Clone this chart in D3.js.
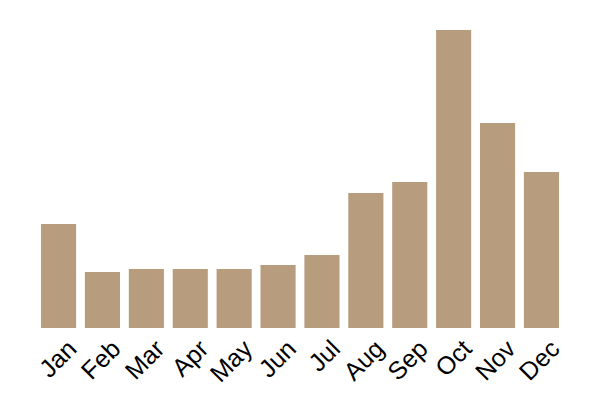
<!DOCTYPE html>
<html>
<head>
<meta charset="utf-8">
<script src="https://cdn.jsdelivr.net/npm/d3@7"></script>
<style>
  body { margin: 0; background: #fff; }
</style>
</head>
<body>
<div id="chart"></div>
<script>
// Data arrays
let months = ["Jan","Feb","Mar","Apr","May","Jun","Jul","Aug","Sep","Oct","Nov","Dec"];
let values = [104, 56, 59, 59, 59, 63, 73, 135, 146, 298, 205, 156];

// svg attributes
let svgWidth = 600;
let svgHeight = 400;
let margin = {top: 30, right: 41, bottom: 72, left: 41};

let svg = d3.select("#chart")
  .append("svg")
  .attr("width", svgWidth)
  .attr("height", svgHeight);

let xScale = d3.scaleBand()
  .domain(months)
  .range([margin.left, svgWidth - margin.right])
  .paddingInner(0.2)
  .paddingOuter(0);

let yScale = d3.scaleLinear()
  .domain([0, d3.max(values)])
  .range([svgHeight - margin.bottom, margin.top]);

// bars
svg.selectAll("rect")
  .data(values)
  .enter()
  .append("rect")
  .attr("x", (d,i) => xScale(months[i]))
  .attr("y", d => yScale(d))
  .attr("width", xScale.bandwidth())
  .attr("height", d => yScale(0) - yScale(d))
  .attr("fill", "#b79c7e");

// x axis, no line or ticks, rotated labels
let xAxis = svg.append("g")
  .attr("transform", `translate(0,${svgHeight - margin.bottom})`)
  .call(d3.axisBottom(xScale).tickSize(0))

xAxis.select(".domain").remove();

xAxis.selectAll("text")
  .style("font-family", "Liberation Sans, Arial, sans-serif")
  .style("font-size", "25px")
  .attr("fill", "#000")
  .attr("y", 12)
  .attr("x", -2)
  .attr("transform", "rotate(-45)")
  .style("text-anchor", "end")
</script>
</body>
</html>
